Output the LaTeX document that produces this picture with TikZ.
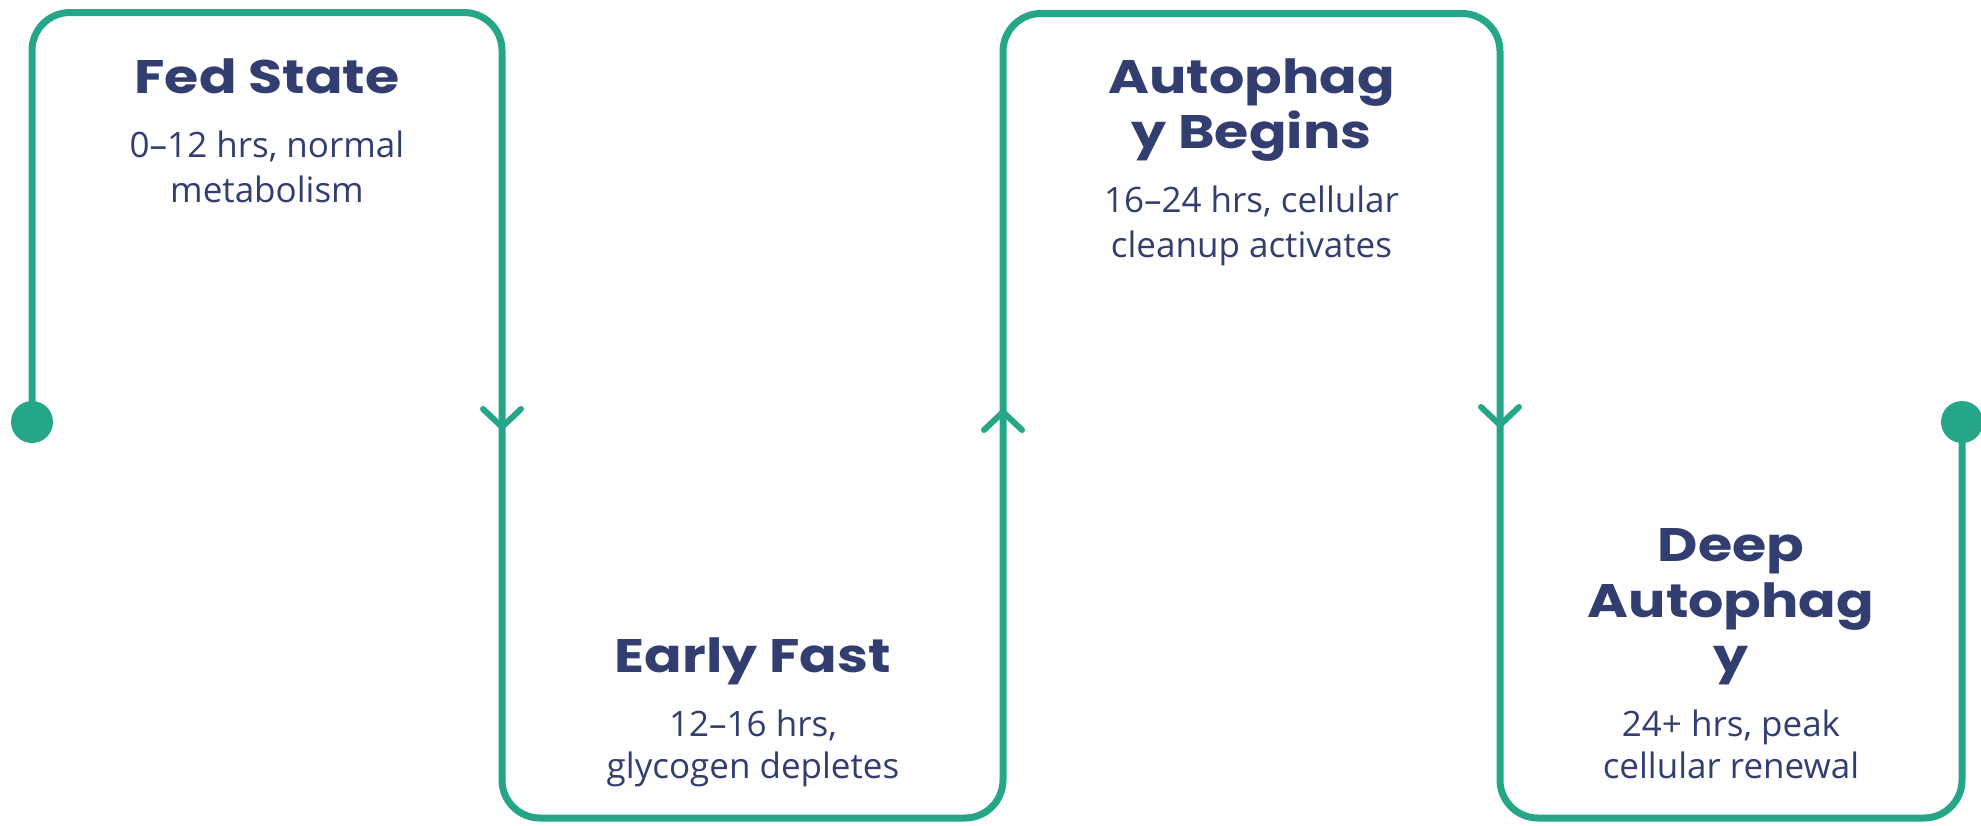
\documentclass[tikz,border=0pt]{standalone}
\usepackage{fontspec}
\usetikzlibrary{calc}
\setmainfont{Open Sans}
\newfontfamily\titlefont{Poppins}[FakeStretch=1.18]
\definecolor{tealg}{RGB}{38,166,136}
\definecolor{navy}{RGB}{50,62,112}
\tikzset{
  flow/.style={draw=tealg, line width=3.5pt, rounded corners=19pt},
  chev/.style={draw=tealg, line width=3pt, line cap=round, line join=round},
  enddot/.style={circle, fill=tealg, minimum size=21pt, inner sep=0pt},
  title/.style={anchor=base, text=navy, inner sep=0pt,
    font=\titlefont\bfseries\fontsize{23.5}{27.5}\selectfont},
  sub/.style={anchor=base, text=navy, inner sep=0pt,
    font=\fontsize{17.5}{22}\selectfont}
}
\begin{document}
\begin{tikzpicture}[x=0.5pt, y=-0.5pt]
\useasboundingbox[fill=white] (0,0) rectangle (1981,825);
% path corners
\coordinate (s)  at (32,422);
\coordinate (c1) at (32,12.5);
\coordinate (c2) at (502,12.5);
\coordinate (c3) at (502,818);
\coordinate (c4) at (1003,818);
\coordinate (c5) at (1003,13.5);
\coordinate (c6) at (1500,13.5);
\coordinate (c7) at (1500,818);
\coordinate (c8) at (1962,818);
\coordinate (e)  at (1962,422);
\draw[flow] (s) -- (c1) -- (c2) -- (c3) -- (c4) -- (c5) -- (c6) -- (c7) -- (c8) -- (e);
% end dots
\node[enddot] (d1) at (s) {};
\node[enddot] (d2) at (e) {};
% chevrons
\coordinate (a1) at (502,427);
\coordinate (a2) at (1003,412);
\coordinate (a3) at (1500,425);
\draw[chev] ($(a1)+(-19,-18)$) -- (a1) -- ($(a1)+(19,-18)$);
\draw[chev] ($(a2)+(-19,18)$) -- (a2) -- ($(a2)+(19,18)$);
\draw[chev] ($(a3)+(-19,-18)$) -- (a3) -- ($(a3)+(19,-18)$);
% box 1
\node[title] (t1)  at (267,93)  {Fed State};
\node[sub]   (s1a) at (267,157) {0–12 hrs, normal};
\node[sub]   (s1b) at (267,202) {metabolism};
% box 2
\node[title] (t2)  at (753,672) {Early Fast};
\node[sub]   (s2a) at (753,736) {12–16 hrs,};
\node[sub]   (s2b) at (753,778) {glycogen depletes};
% box 3
\node[title] (t3a) at (1251.5,93)  {Autophag};
\node[title] (t3b) at (1251.5,148) {y Begins};
\node[sub]   (s3a) at (1251.5,212) {16–24 hrs, cellular};
\node[sub]   (s3b) at (1251.5,257) {cleanup activates};
% box 4
\node[title] (t4a) at (1731,561) {Deep};
\node[title] (t4b) at (1731,617) {Autophag};
\node[title] (t4c) at (1731,672) {y};
\node[sub]   (s4a) at (1731,736) {24+ hrs, peak};
\node[sub]   (s4b) at (1731,778) {cellular renewal};
\end{tikzpicture}
\end{document}
